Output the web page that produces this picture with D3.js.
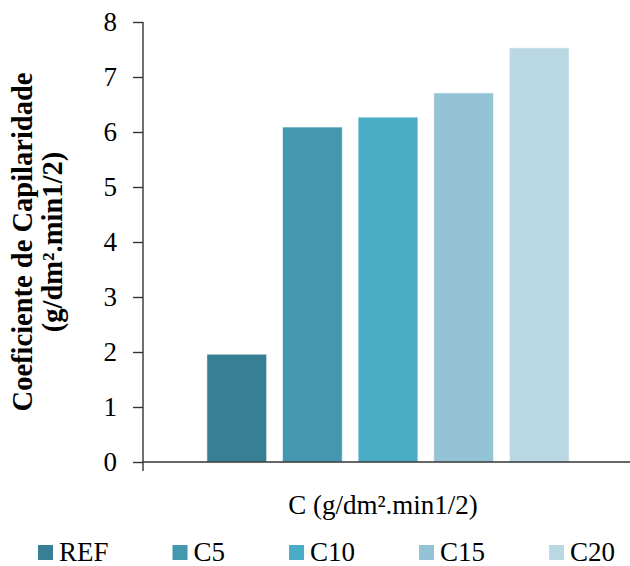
<!DOCTYPE html>
<html>
<head>
<meta charset="utf-8">
<script src="https://cdn.jsdelivr.net/npm/d3@7"></script>
<style>
  body { margin: 0; background: #fff; }
  text { font-family: "Liberation Serif", "Times New Roman", serif; fill: #000; }
</style>
</head>
<body>
<div id="chart"></div>
<script>
// one category on the x axis, five series
var category = ["C (g/dm².min1/2)"];
var series = ["REF", "C5", "C10", "C15", "C20"];
var values = [1.96, 6.09, 6.27, 6.71, 7.53];
var colors = ["#377f94", "#4398b0", "#4bacc6", "#93c3d5", "#bad8e3"];
var yTicks = [0, 1, 2, 3, 4, 5, 6, 7, 8];

var width = 630, height = 566;
var margin = {top: 22, right: -3, bottom: 104, left: 143};

var svg = d3.select("#chart")
	.append("svg")
	.attr("width", width)
	.attr("height", height);

var y = d3.scaleLinear()
	.domain([0, 8])
	.range([height - margin.bottom, margin.top]);

var x0 = d3.scaleBand()
	.domain(category)
	.range([margin.left, width - margin.right]);

var x1 = d3.scaleBand()
	.domain(series)
	.range([0, x0.bandwidth()])
	.paddingInner(0.21)
	.paddingOuter(0.845);

var color = d3.scaleOrdinal().domain(series).range(colors);

// bars
var g = svg.append("g")
	.attr("transform", "translate(" + x0(category[0]) + ",0)");

g.selectAll("rect")
	.data(series)
	.enter()
	.append("rect")
	.attr("x", function(d) { return x1(d); })
	.attr("y", function(d, i) { return y(values[i]); })
	.attr("width", x1.bandwidth())
	.attr("height", function(d, i) { return y(0) - y(values[i]); })
	.style("fill", function(d) { return color(d); })
	.style("stroke", "#ffffff")
	.style("stroke-opacity", 0.55)
	.style("stroke-width", 1);

// y axis
var yAxis = svg.append("g")
	.attr("transform", "translate(" + margin.left + ",0)")
	.call(d3.axisLeft(y).tickValues(yTicks).tickSize(10).tickPadding(16).tickSizeOuter(0));

yAxis.select(".domain").remove();
yAxis.selectAll(".tick line").attr("stroke", "#333").attr("stroke-width", 1.4);
yAxis.selectAll(".tick text")
	.style("font-size", "27px")
	.attr("fill", "#000");

// axis lines
svg.append("line")
	.attr("x1", margin.left).attr("x2", margin.left)
	.attr("y1", y(8)).attr("y2", y(0) + 9)
	.attr("stroke", "#333").attr("stroke-width", 1.4);

svg.append("line")
	.attr("x1", margin.left).attr("x2", width)
	.attr("y1", y(0)).attr("y2", y(0))
	.attr("stroke", "#333").attr("stroke-width", 1.4);

// axis titles
svg.append("text")
	.attr("x", x0(category[0]) + x0.bandwidth() / 2 - 5)
	.attr("y", 514)
	.attr("text-anchor", "middle")
	.style("font-size", "27px")
	.text(category[0]);

var yMid = (y(0) + y(8)) / 2;
var ytitle = svg.append("text")
	.attr("transform", "translate(32," + yMid + ") rotate(-90)")
	.attr("text-anchor", "middle")
	.style("font-size", "28.5px")
	.style("font-weight", "bold");
ytitle.append("tspan").attr("x", 0).attr("y", 0).text("Coeficiente de Capilaridade");
ytitle.append("tspan").attr("x", 0).attr("y", 30).text("(g/dm².min1/2)");

// legend
var legend = svg.append("g").attr("class", "legend");
var lx = 38;
series.forEach(function(s) {
	var item = legend.append("g").attr("transform", "translate(" + lx + ",545)");
	item.append("rect")
		.attr("width", 15)
		.attr("height", 15)
		.style("fill", color(s));
	var t = item.append("text")
		.attr("x", 21)
		.attr("y", 16)
		.style("font-size", "27px")
		.text(s);
	lx += 21 + t.node().getComputedTextLength() + 64;
});
</script>
</body>
</html>
